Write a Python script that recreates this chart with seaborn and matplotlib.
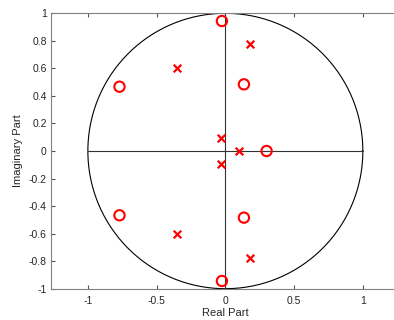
import numpy as np
import matplotlib
matplotlib.use("Agg")
import matplotlib.pyplot as plt
import seaborn as sns

# zeros (circles) and poles (crosses)
zeros_re = [-0.025, 0.135, 0.30, -0.77, -0.77, 0.135, -0.025]
zeros_im = [0.944, 0.484, 0.0, 0.467, -0.467, -0.484, -0.944]
poles_re = [-0.35, 0.18, -0.03, 0.10, -0.03, -0.35, 0.18]
poles_im = [0.605, 0.78, 0.095, 0.0, -0.095, -0.605, -0.78]

xticks = [-1, -0.5, 0, 0.5, 1]
yticks = [-1, -0.8, -0.6, -0.4, -0.2, 0, 0.2, 0.4, 0.6, 0.8, 1]

sns.set_style("white")
plt.rcParams['font.family'] = ['Liberation Sans', 'DejaVu Sans']

fig = plt.figure(figsize=(3.94, 3.20), dpi=100)
ax = fig.add_axes([51 / 394, 31.3 / 320, 348.7 / 394, 275.4 / 320])

# unit circle and axis lines
t = np.linspace(0, 2 * np.pi, 400)
ax.plot(np.cos(t), np.sin(t), color='black', lw=0.8)
ax.plot([-1, 1], [0, 0], color='#333333', lw=0.8)
ax.plot([0, 0], [-1, 1], color='#333333', lw=0.8)

sns.scatterplot(x=zeros_re, y=zeros_im, marker='o', s=55, facecolors='none',
                edgecolor='red', linewidth=1.5, ax=ax, zorder=3)
sns.scatterplot(x=poles_re, y=poles_im, marker='x', s=30, color='red',
                linewidth=1.6, ax=ax, zorder=3)

ax.set_xlim(-1.268, 1.268)
ax.set_ylim(-1, 1)
ax.set_xticks(xticks)
ax.set_xticklabels(['-1', '-0.5', '0', '0.5', '1'])
ax.set_yticks(yticks)
ax.set_yticklabels(['-1', '-0.8', '-0.6', '-0.4', '-0.2', '0', '0.2', '0.4', '0.6', '0.8', '1'])

grey = '#262626'
for side in ['left', 'bottom', 'top']:
    ax.spines[side].set_color('#808080')
    ax.spines[side].set_linewidth(0.8)
ax.spines['right'].set_visible(False)
ax.tick_params(direction='in', length=3, width=0.8, color='#555555',
               labelsize=7.5, labelcolor=grey, top=True, bottom=True, left=True, pad=3)
ax.tick_params(axis='x', pad=5)
ax.set_xlabel('Real Part', fontsize=8, color=grey, labelpad=2)
ax.set_ylabel('Imaginary Part', fontsize=8, color=grey, labelpad=4)

fig.savefig('out.png', dpi=100)
